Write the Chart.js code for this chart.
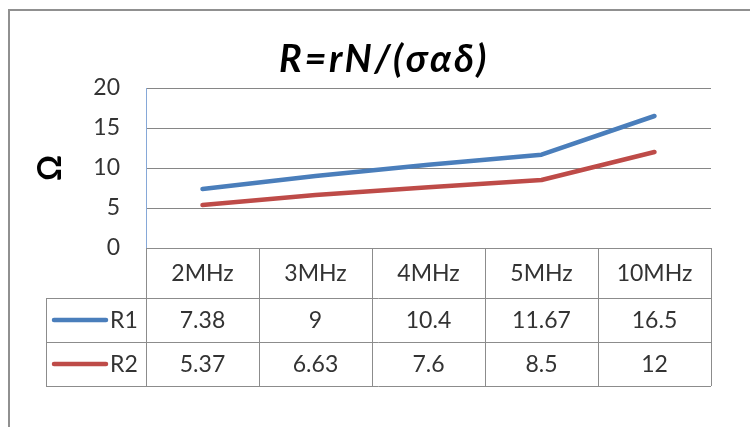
<!DOCTYPE html>
<html>
<head>
<meta charset="utf-8">
<style>
  html, body { margin: 0; padding: 0; background: #ffffff; }
  #wrap { width: 750px; height: 427px; }
</style>
<script src="https://cdn.jsdelivr.net/npm/chart.js@4/dist/chart.umd.min.js"></script>
</head>
<body>
<div id="wrap"><canvas id="chart" width="750" height="427"></canvas></div>
<script>
// Frequencies and resistance values
const categories = ['2MHz', '3MHz', '4MHz', '5MHz', '10MHz'];
const seriesNames = ['R1', 'R2'];
const r1Values = [7.38, 9, 10.4, 11.67, 16.5];
const r2Values = [5.37, 6.63, 7.6, 8.5, 12];
const yMin = 0, yMax = 20, yStep = 5;
const titleText = 'R=rN/(σαδ)';
const yTitleText = 'Ω';

const FONT = 'Lato, "Open Sans", "DejaVu Sans", sans-serif';
const TEXT_COLOR = '#333333';
const RULE_COLOR = '#8c8c8c';
const seriesColors = ['#4a7ebb', '#be4b48'];
const seriesData = [r1Values, r2Values];

// Outer frame, heading, and the data table under the plot laid out from the x scale
const frameAndTable = {
  id: 'frameAndTable',
  beforeDraw(chart) {
    const ctx = chart.ctx;
    ctx.save();
    ctx.strokeStyle = '#909090';
    ctx.lineWidth = 2;
    ctx.beginPath();
    ctx.moveTo(9, chart.height);
    ctx.lineTo(9, 10);
    ctx.lineTo(chart.width, 10);
    ctx.stroke();

    // heading
    ctx.fillStyle = '#000000';
    ctx.font = 'italic bold 38px ' + FONT;
    ctx.letterSpacing = '2.5px';
    ctx.textAlign = 'center';
    ctx.textBaseline = 'alphabetic';
    ctx.fillText(titleText, 384, 72);
    ctx.restore();
  },
  afterDraw(chart) {
    const ctx = chart.ctx;
    const xs = chart.scales.x;
    const area = chart.chartArea;
    const half = (xs.getPixelForValue(1) - xs.getPixelForValue(0)) / 2;
    const headTop = area.bottom;
    const rowTops = [headTop + 50, headTop + 94];
    const tableBottom = headTop + 138;
    const legendLeft = 46;
    const a = v => Math.round(v) + 0.5;

    ctx.save();
    ctx.strokeStyle = RULE_COLOR;
    ctx.lineWidth = 1;
    ctx.beginPath();
    // horizontal rules
    ctx.moveTo(area.left, a(headTop)); ctx.lineTo(area.right, a(headTop));
    rowTops.concat([tableBottom]).forEach(y => {
      ctx.moveTo(legendLeft, a(y)); ctx.lineTo(area.right, a(y));
    });
    // vertical rules
    ctx.moveTo(a(legendLeft), rowTops[0]); ctx.lineTo(a(legendLeft), tableBottom);
    for (let i = 0; i < categories.length; i++) {
      const xl = xs.getPixelForValue(i) - half;
      ctx.moveTo(a(xl), headTop); ctx.lineTo(a(xl), tableBottom);
    }
    ctx.moveTo(a(area.right), headTop); ctx.lineTo(a(area.right), tableBottom);
    ctx.stroke();

    ctx.fillStyle = TEXT_COLOR;
    ctx.font = '23px ' + FONT;
    ctx.textAlign = 'center';
    ctx.textBaseline = 'middle';
    categories.forEach((c, i) => {
      ctx.fillText(c, xs.getPixelForValue(i), (headTop + rowTops[0]) / 2 + 1);
    });
    seriesData.forEach((vals, s) => {
      const top = rowTops[s];
      const bot = s + 1 < rowTops.length ? rowTops[s + 1] : tableBottom;
      const cy = (top + bot) / 2 + 1;
      ctx.textAlign = 'center';
      vals.forEach((v, i) => ctx.fillText(String(v), xs.getPixelForValue(i), cy));
      // legend key
      ctx.strokeStyle = seriesColors[s];
      ctx.lineWidth = 4.5;
      ctx.lineCap = 'round';
      ctx.beginPath();
      ctx.moveTo(54, cy - 1); ctx.lineTo(106, cy - 1);
      ctx.stroke();
      ctx.textAlign = 'left';
      ctx.fillText(seriesNames[s], 110, cy);
    });
    ctx.restore();
  }
};

new Chart(document.getElementById('chart'), {
  type: 'line',
  data: {
    labels: categories,
    datasets: seriesNames.map((name, s) => ({
      label: name,
      data: seriesData[s],
      borderColor: seriesColors[s],
      backgroundColor: seriesColors[s],
      borderWidth: 4.5,
      borderCapStyle: 'round',
      borderJoinStyle: 'round',
      pointRadius: 0,
      tension: 0,
      fill: false
    }))
  },
  options: {
    responsive: false,
    animation: false,
    devicePixelRatio: 1,
    layout: { padding: { left: 0, top: 88, right: 39, bottom: 179 } },
    plugins: {
      legend: { display: false },
      tooltip: { enabled: false },
      title: { display: false }
    },
    scales: {
      x: {
        type: 'category',
        offset: true,
        display: false
      },
      y: {
        min: yMin,
        max: yMax,
        afterFit(scale) { scale.width = 146; },
        ticks: {
          stepSize: yStep,
          padding: 26,
          color: TEXT_COLOR,
          font: { family: FONT, size: 23 }
        },
        grid: { color: '#868686', lineWidth: 1, drawTicks: false },
        border: { color: '#86a8d8', width: 1 },
        title: {
          display: true,
          text: yTitleText,
          color: '#000000',
          font: { family: FONT, size: 32, weight: 'bold', lineHeight: 1.2 },
          padding: { top: 31, bottom: 0 }
        }
      }
    }
  },
  plugins: [frameAndTable]
});
</script>
</body>
</html>
